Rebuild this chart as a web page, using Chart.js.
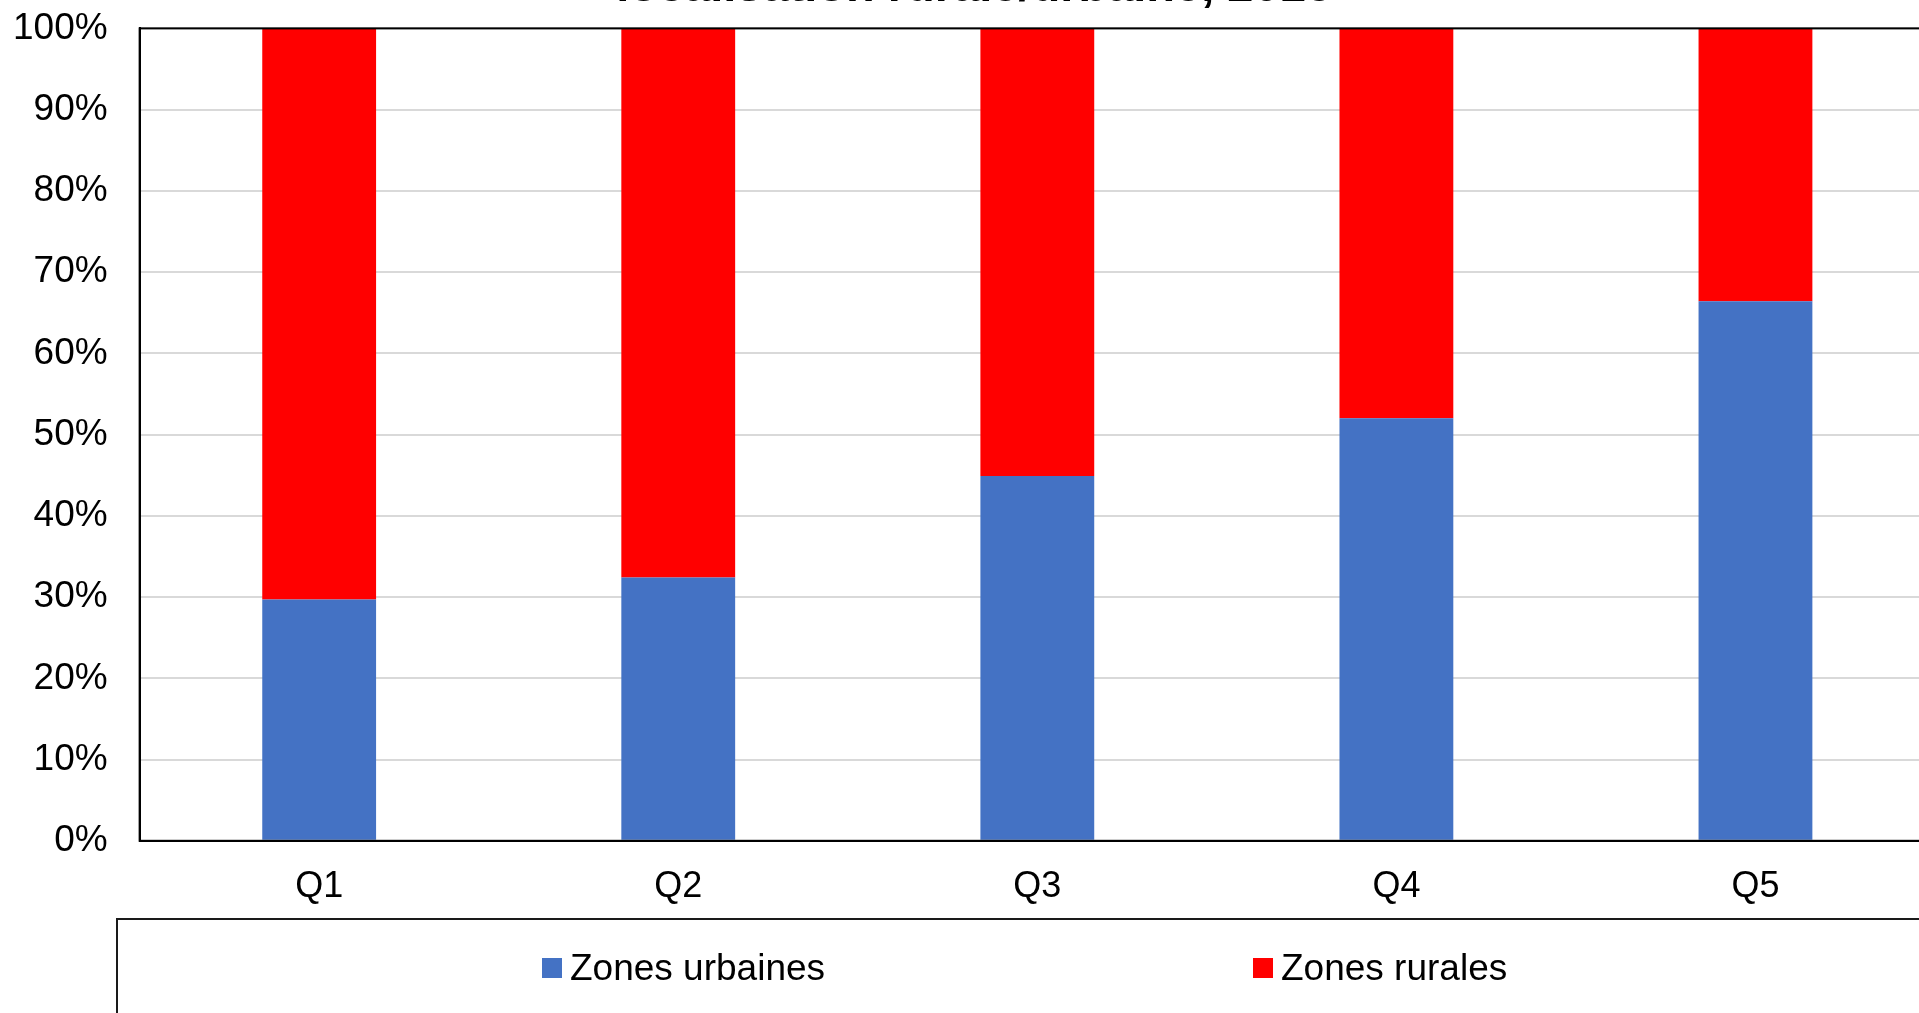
<!DOCTYPE html>
<html>
<head>
<meta charset="utf-8">
<script src="https://cdn.jsdelivr.net/npm/chart.js@4/dist/chart.umd.min.js"></script>
<style>
    html, body { margin: 0; padding: 0; background: #fff; overflow: hidden; }
    body { width: 1919px; height: 1013px; position: relative; }
    #wrap { position: absolute; left: 0; top: -40px; width: 1942px; height: 974px; }
    #legende {
        position: absolute; left: 116px; top: 918px; width: 1900px; height: 100px;
        border: 2px solid #1a1a1a; box-sizing: border-box;
        display: flex; align-items: center; padding-left: 424px;
        font-family: "Liberation Sans", Arial, sans-serif; font-size: 37px; color: #000;
    }
    .item { width: 711px; display: flex; align-items: center; }
    .carre { width: 20px; height: 20px; margin-right: 8px; }
</style>
</head>
<body>
<div id="wrap"><canvas id="graphique"></canvas></div>
<div id="legende"></div>
<script>
const categories = ['Q1', 'Q2', 'Q3', 'Q4', 'Q5'];
const urbaines = [29.7, 32.4, 44.9, 52.0, 66.4];
const rurales = [70.3, 67.6, 55.1, 48.0, 33.6];
const titre = 'localisation rurale/urbaine, 2016';

const police = '"Liberation Sans", Arial, sans-serif';

// bordure noire autour de la zone de tracé
const cadre = {
    id: 'cadre',
    afterDatasetsDraw(chart) {
        const a = chart.chartArea;
        const ctx = chart.ctx;
        ctx.save();
        ctx.strokeStyle = '#000';
        ctx.lineWidth = 2;
        ctx.strokeRect(a.left, a.top, a.right - a.left, a.bottom - a.top);
        ctx.restore();
    }
};

const ctx = document.getElementById('graphique').getContext('2d');
const graphique = new Chart(ctx, {
    type: 'bar',
    data: {
        labels: categories,
        datasets: [
            { label: 'Zones urbaines', data: urbaines, backgroundColor: '#4472C4' },
            { label: 'Zones rurales', data: rurales, backgroundColor: '#FF0000' }
        ]
    },
    options: {
        responsive: true,
        maintainAspectRatio: false,
        animation: false,
        categoryPercentage: 1,
        barPercentage: 0.317,
        layout: { padding: { left: 13, right: 7, top: 0, bottom: 0 } },
        plugins: {
            legend: { display: false },
            tooltip: { enabled: false },
            title: {
                display: true,
                text: titre,
                color: '#000',
                font: { family: police, size: 47, weight: 'bold' },
                padding: { top: 0, bottom: 12 }
            }
        },
        scales: {
            x: {
                stacked: true,
                grid: { display: false, drawTicks: false },
                border: { color: '#000', width: 2 },
                ticks: { color: '#000', padding: 25, font: { family: police, size: 36 } }
            },
            y: {
                stacked: true,
                min: 0,
                max: 100,
                grid: { color: '#d9d9d9', lineWidth: 2, drawTicks: true, tickLength: 32, tickColor: 'transparent' },
                border: { color: '#000', width: 2 },
                ticks: {
                    stepSize: 10,
                    color: '#000',
                    padding: 0,
                    font: { family: police, size: 37 },
                    callback: v => v + '%'
                }
            }
        }
    },
    plugins: [cadre]
});

// légende HTML encadrée
const legende = document.getElementById('legende');
graphique.data.datasets.forEach(ds => {
    const item = document.createElement('div');
    item.className = 'item';
    item.innerHTML = `<span class="carre" style="background:${ds.backgroundColor}"></span><span>${ds.label}</span>`;
    legende.appendChild(item);
});
</script>
</body>
</html>
